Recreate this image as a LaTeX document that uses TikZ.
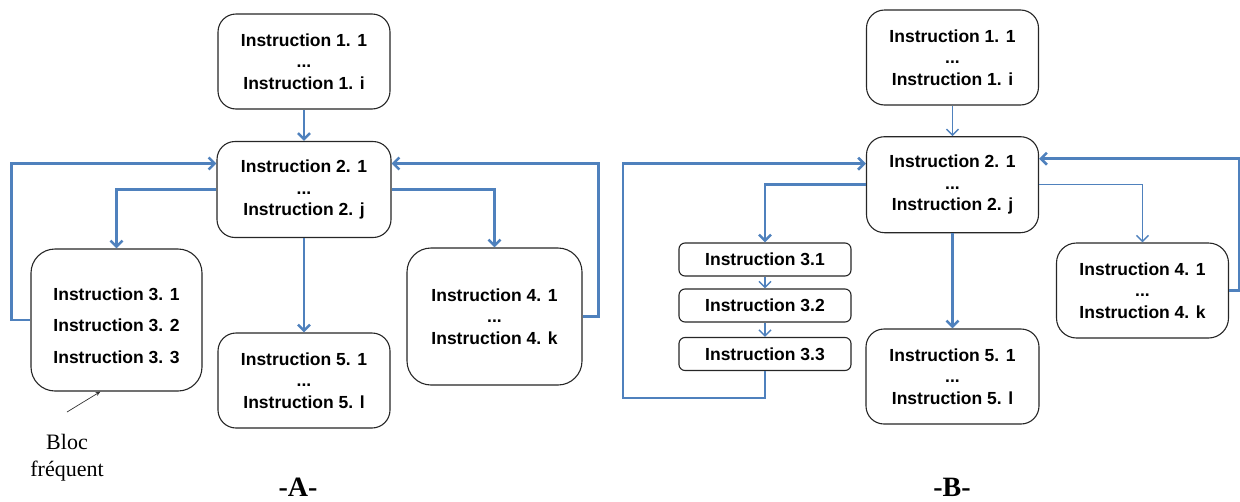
\documentclass[tikz,border=0pt]{standalone}
\usepackage{fontspec}
\setmainfont{Liberation Serif}
\setsansfont{Liberation Sans}
\usetikzlibrary{arrows.meta}

\definecolor{flowblue}{RGB}{79,129,189}
\newcommand{\instrfont}{\sffamily\bfseries\fontsize{17.5}{21.5}\selectfont}

\tikzset{
  instr/.style={draw=black!85, line width=1.1pt, rounded corners=18pt, fill=white, align=center,
                font=\instrfont, minimum width=172pt, minimum height=95pt, inner sep=0pt},
  instrsmall/.style={instr, rounded corners=6pt, minimum height=33pt},
  link/.style={draw=flowblue, line width=2.6pt, -{Straight Barb[length=6pt,width=12pt]}},
  thinlink/.style={link, line width=1.5pt},
}

\begin{document}
\begin{tikzpicture}[x=1pt,y=-1pt]
  \useasboundingbox (0,0) rectangle (1240,501);

  % -A-
  \node [instr] (b1a) at (304,61.5) {Instruction 1. 1\\...\\Instruction 1. i};
  \node [instr, minimum width=174pt, minimum height=96pt] (b2a) at (304,189.5) {Instruction 2. 1\\...\\Instruction 2. j};
  \node [instr, rounded corners=24pt, minimum width=171pt, minimum height=142pt, text height=87pt,
         font=\sffamily\bfseries\fontsize{17.5}{31.5}\selectfont] (b3a) at (116.5,320)
        {Instruction 3. 1\\Instruction 3. 2\\Instruction 3. 3};
  \node [instr, rounded corners=24pt, minimum width=175pt, minimum height=137pt] (b4a) at (494.5,316.5) {Instruction 4. 1\\...\\Instruction 4. k};
  \node [instr] (b5a) at (304,380.5) {Instruction 5. 1\\...\\Instruction 5. l};

  \draw [link] (b1a) -- (b2a);
  \draw [link] (b2a.west) -| (b3a.north);
  \draw [link] (b2a) -- (b5a);
  \draw [link] (b2a.east) -| (b4a.north);
  \draw [link] (b3a.west) -- ++(-19,0) |- ([yshift=26pt]b2a.west);
  \draw [link] (b4a.east) -- ++(16,0) |- ([yshift=26pt]b2a.east);

  \coordinate (blocpt) at (67,412);
  \draw [black!80, line width=0.7pt, -{Stealth[length=5pt,width=4pt]}] (blocpt) -- ([xshift=-16pt]b3a.south);
  \node [align=center, font=\fontsize{22}{27}\selectfont] (bloc) at (67,458) {Bloc\\fréquent};
  \node [anchor=base, font=\bfseries\fontsize{28}{30}\selectfont] (capa) at (298,496) {-A-};

  % -B-
  \node [instr] (b1b) at (952.5,57.5) {Instruction 1. 1\\...\\Instruction 1. i};
  \node [instr, minimum height=96pt] (b2b) at (952.5,184.7) {Instruction 2. 1\\...\\Instruction 2. j};
  \node [instrsmall] (b31) at (765,259.5) {Instruction 3.1};
  \node [instrsmall] (b32) at (765,305.5) {Instruction 3.2};
  \node [instrsmall] (b33) at (765,354) {Instruction 3.3};
  \node [instr, rounded corners=20pt] (b4b) at (1142.5,290.5) {Instruction 4. 1\\...\\Instruction 4. k};
  \node [instr, minimum width=173pt] (b5b) at (952.5,376.5) {Instruction 5. 1\\...\\Instruction 5. l};

  \draw [thinlink] (b1b) -- (b2b);
  \draw [link] (b2b.west) -| (b31.north);
  \draw [thinlink] (b31) -- (b32);
  \draw [thinlink] (b32) -- (b33);
  \draw [link] (b2b) -- (b5b);
  \draw [thinlink] (b2b.east) -| (b4b.north);
  \draw [link] (b33.south) -- ++(0,27) -- ++(-142,0) |- ([yshift=21pt]b2b.west);
  \draw [link] (b4b.east) -- ++(10,0) |- ([yshift=26pt]b2b.east);

  \node [anchor=base, font=\bfseries\fontsize{28}{30}\selectfont] (capb) at (952,496) {-B-};
\end{tikzpicture}
\end{document}
